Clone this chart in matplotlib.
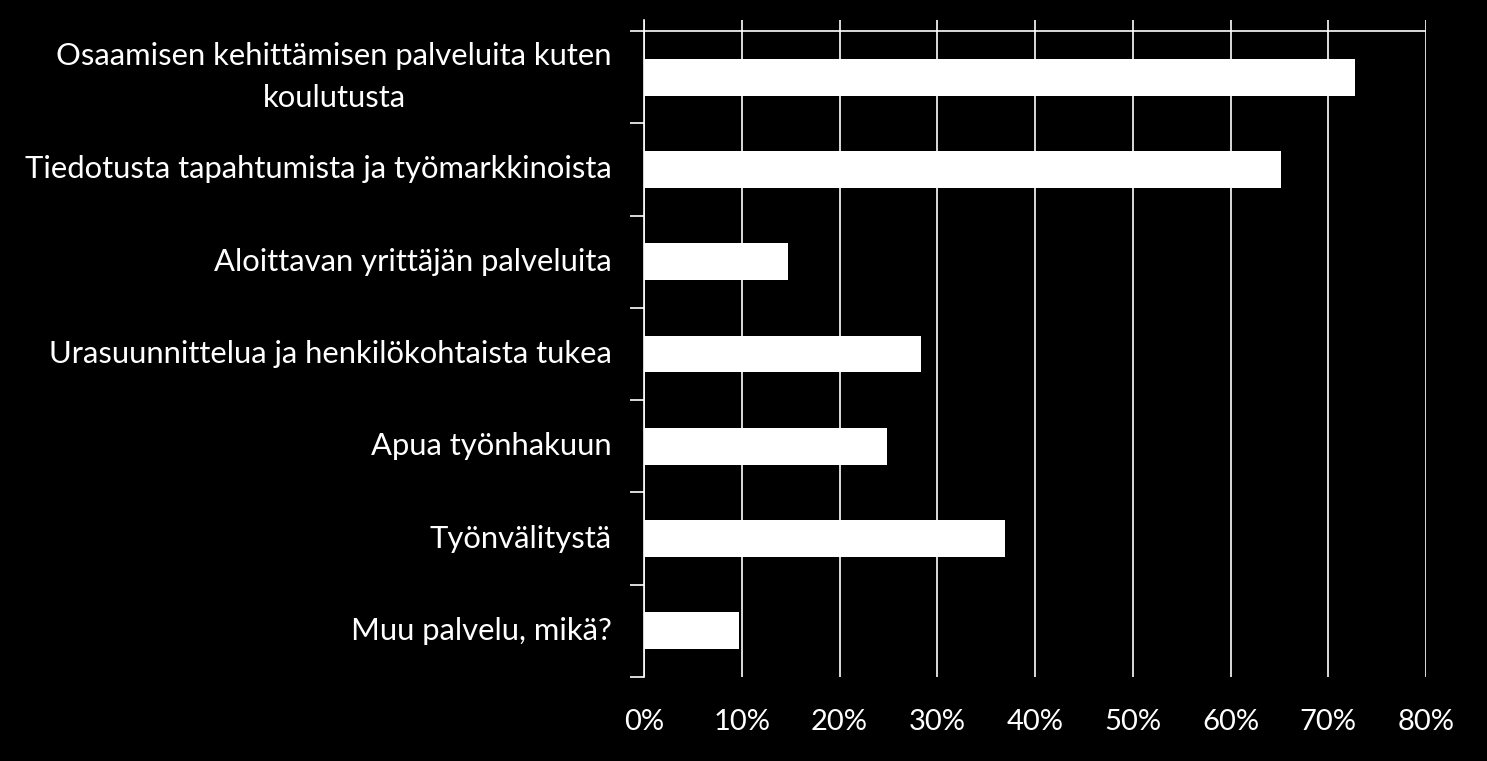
import matplotlib.pyplot as plt
from matplotlib.ticker import FuncFormatter

categories = [
    'Osaamisen kehittämisen palveluita kuten\nkoulutusta',
    'Tiedotusta tapahtumista ja työmarkkinoista',
    'Aloittavan yrittäjän palveluita',
    'Urasuunnittelua ja henkilökohtaista tukea',
    'Apua työnhakuun',
    'Työnvälitystä',
    'Muu palvelu, mikä?',
]
values = [72.7, 65.2, 14.7, 28.3, 24.9, 36.9, 9.7]
xticks = [0, 10, 20, 30, 40, 50, 60, 70, 80]

plt.rcParams['font.family'] = ['Lato', 'DejaVu Sans']

W, H = 1487, 761
fig = plt.figure(figsize=(W / 100, H / 100), dpi=100, facecolor='black')
ax = fig.add_axes([644 / W, (H - 677) / H, (1426 - 644) / W, (677 - 20) / H])
ax.set_facecolor('black')

ypos = list(range(len(categories)))
ax.barh(ypos, values, height=0.40, color='white', zorder=3)

ax.set_xlim(0, 80)
ax.set_ylim(6.5, -0.62)
ax.set_xticks(xticks)
ax.xaxis.set_major_formatter(FuncFormatter(lambda v, p: f'{v:.0f}%'))
ax.tick_params(axis='x', length=0, pad=23, labelsize=21, labelcolor='white')

ax.set_yticks([y - 0.5 for y in ypos] + [6.5])
ax.set_yticklabels([])
ax.tick_params(axis='y', length=10, width=1.2, color='white', direction='out')
for y, lab in zip(ypos, categories):
    ax.text(-3.3, y, lab, ha='right', va='center', multialignment='center',
            fontsize=22.3, color='white', linespacing=1.6)

ax.grid(axis='x', color='white', linewidth=1.2, zorder=1)
ax.axhline(-0.5, color='white', linewidth=1.2, zorder=2)

for s in ['top', 'right', 'bottom']:
    ax.spines[s].set_visible(False)
ax.spines['left'].set_color('white')
ax.spines['left'].set_linewidth(1.2)

fig.savefig('out.png', dpi=100, facecolor='black')
